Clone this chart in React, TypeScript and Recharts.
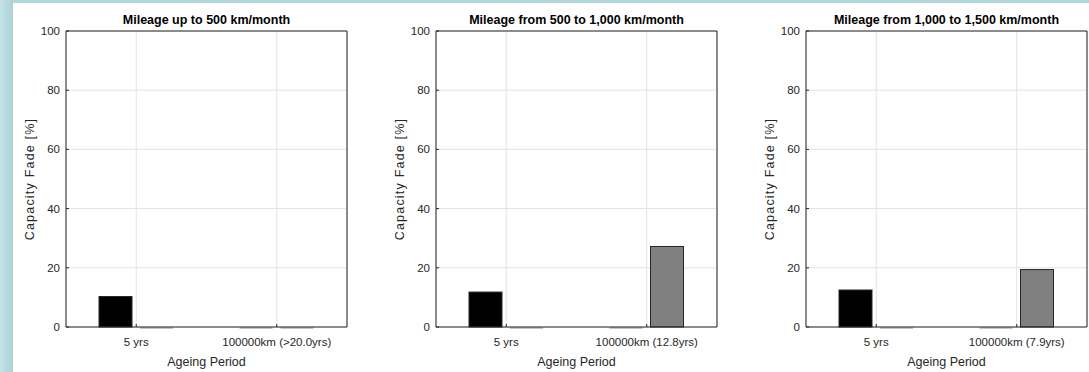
import { BarChart, Bar, XAxis, YAxis, CartesianGrid } from 'recharts';

const titles = [
  'Mileage up to 500 km/month',
  'Mileage from 500 to 1,000 km/month',
  'Mileage from 1,000 to 1,500 km/month',
];
const periodLabels = [
  ['5 yrs', '100000km (>20.0yrs)'],
  ['5 yrs', '100000km (12.8yrs)'],
  ['5 yrs', '100000km (7.9yrs)'],
];
// first series (black) and second series (gray), per panel, per period
const blackFade = [
  [10.3, 0],
  [11.8, 0],
  [12.5, 0],
];
const grayFade = [
  [0, 0],
  [0, 27.2],
  [0, 19.4],
];
const yTicks = [0, 20, 40, 60, 80, 100];

const FONT = '"Liberation Sans", Arial, Helvetica, sans-serif';
const AXIS = '#262626';

const barShape = (fill: string) => (props: any) => {
  const { x, y, width, height } = props;
  if (!height) {
    return <line x1={x} x2={x + width} y1={y + 1} y2={y + 1} stroke="#8c8c8c" />;
  }
  return <rect x={x} y={y} width={width} height={height} fill={fill} stroke={AXIS} />;
};

function FadePanel({ index }: { index: number }) {
  const data = periodLabels[index].map((period, i) => ({
    period,
    black: blackFade[index][i],
    gray: grayFade[index][i],
  }));

  return (
    <div style={{ position: 'relative', width: 370, height: 372 }}>
      <BarChart
        width={370}
        height={372}
        data={data}
        margin={{ top: 30, right: 22, bottom: 5, left: 26 }}
        barSize={33}
        barGap={8}
        style={{ fontFamily: FONT }}
      >
        <CartesianGrid stroke="#e3e3e3" />
        <Bar dataKey="black" isAnimationActive={false} shape={barShape('#000000')} />
        <Bar dataKey="gray" isAnimationActive={false} shape={barShape('#808080')} />
        <XAxis
          dataKey="period"
          height={40}
          interval={0}
          axisLine={{ stroke: AXIS }}
          tickLine={{ stroke: AXIS }}
          tickSize={-3}
          tickMargin={14}
          tick={{ fill: AXIS, fontSize: 11.5 }}
          label={{ value: 'Ageing Period', position: 'insideBottom', offset: 1, fill: AXIS, fontSize: 12.5 }}
        />
        <XAxis
          xAxisId="top"
          orientation="top"
          dataKey="period"
          height={1}
          interval={0}
          axisLine={{ stroke: AXIS }}
          tickLine={{ stroke: AXIS }}
          tickSize={-3}
          tick={false}
        />
        <YAxis
          domain={[0, 100]}
          ticks={yTicks}
          width={40}
          axisLine={{ stroke: AXIS }}
          tickLine={{ stroke: AXIS }}
          tickSize={-3}
          tickMargin={9}
          tick={{ fill: AXIS, fontSize: 11.5 }}
          label={{
            value: 'Capacity Fade [%]',
            angle: -90,
            position: 'insideLeft',
            offset: 4,
            fill: AXIS,
            fontSize: 12.5,
            style: { textAnchor: 'middle', letterSpacing: 1.2 },
          }}
        />
        <YAxis
          yAxisId="right"
          orientation="right"
          domain={[0, 100]}
          ticks={yTicks}
          width={1}
          axisLine={{ stroke: AXIS }}
          tickLine={{ stroke: AXIS }}
          tickSize={-3}
          tick={false}
        />
      </BarChart>
      <svg
        width={370}
        height={30}
        style={{ position: 'absolute', left: 0, top: 0, pointerEvents: 'none' }}
      >
        <text
          x={206.5}
          y={23.5}
          textAnchor="middle"
          fontFamily={FONT}
          fontSize={12.5}
          fontWeight="bold"
          fill="#000000"
        >
          {titles[index]}
        </text>
      </svg>
    </div>
  );
}

export default function App() {
  return (
    <div
      style={{
        position: 'absolute',
        left: 0,
        top: 0,
        width: 1089,
        height: 372,
        overflow: 'hidden',
        background: '#ffffff',
      }}
    >
      <div
        style={{
          position: 'absolute',
          left: 0,
          top: 0,
          width: 1089,
          height: 3,
          background: '#b3d7db',
        }}
      />
      <div
        style={{
          position: 'absolute',
          left: 0,
          top: 0,
          width: 13,
          height: 372,
          background: 'linear-gradient(to right, #c6e4e7, #aad1d6)',
        }}
      />
      {titles.map((t, i) => (
        <div key={t} style={{ position: 'absolute', left: 370 * i, top: 0 }}>
          <FadePanel index={i} />
        </div>
      ))}
    </div>
  );
}
